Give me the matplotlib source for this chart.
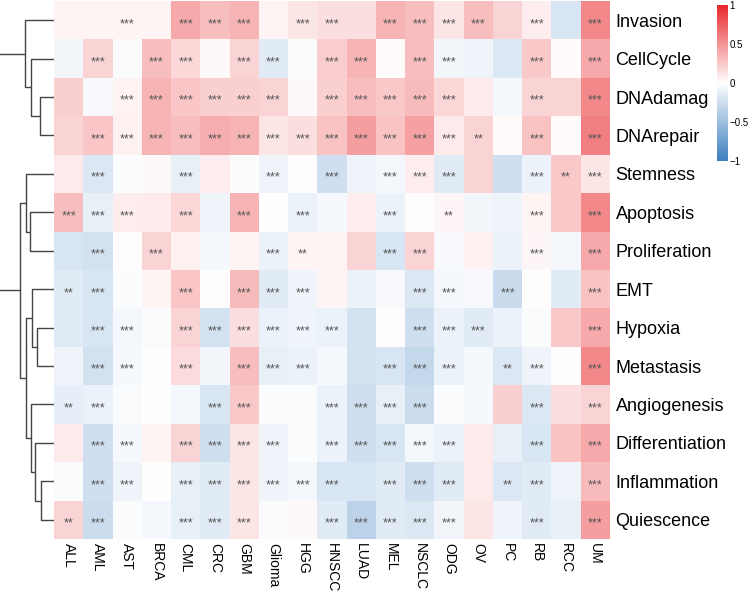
import numpy as np
import matplotlib
matplotlib.use("Agg")
import matplotlib.pyplot as plt
from matplotlib.colors import LinearSegmentedColormap

plt.rcParams["font.family"] = ["Liberation Sans", "DejaVu Sans"]

cancers = ["ALL", "AML", "AST", "BRCA", "CML", "CRC", "GBM", "Glioma", "HGG", "HNSCC",
           "LUAD", "MEL", "NSCLC", "ODG", "OV", "PC", "RB", "RCC", "UM"]
states = ["Invasion", "CellCycle", "DNAdamag", "DNArepair", "Stemness", "Apoptosis",
          "Proliferation", "EMT", "Hypoxia", "Metastasis", "Angiogenesis",
          "Differentiation", "Inflammation", "Quiescence"]

invasion =        [0.05, 0.05, 0.05, 0.05, 0.40, 0.30, 0.35, 0.05, 0.12, 0.15, 0.15, 0.35, 0.30, 0.12, 0.30, 0.20, 0.08, -0.20, 0.55]
cellcycle =       [-0.07, 0.20, -0.03, 0.30, 0.18, 0.03, 0.20, -0.15, -0.03, 0.23, 0.35, 0.02, 0.30, -0.07, -0.08, -0.18, 0.25, 0.02, 0.40]
dnadamag =        [0.22, -0.04, 0.06, 0.35, 0.27, 0.22, 0.22, 0.20, 0.03, 0.22, 0.30, 0.25, 0.32, 0.18, 0.10, -0.06, 0.20, 0.20, 0.55]
dnarepair =       [0.20, 0.27, 0.07, 0.35, 0.30, 0.38, 0.35, 0.12, 0.15, 0.28, 0.45, 0.28, 0.43, 0.10, 0.20, 0.02, 0.28, 0.02, 0.60]
stemness =        [0.10, -0.18, -0.02, 0.03, -0.12, 0.08, -0.02, -0.08, 0.01, -0.25, -0.08, -0.06, 0.08, -0.15, 0.20, -0.25, -0.10, 0.25, 0.12]
apoptosis =       [0.30, -0.12, 0.08, 0.10, 0.18, -0.08, 0.35, 0.00, -0.10, -0.05, 0.08, -0.10, 0.01, 0.04, -0.07, -0.08, 0.05, 0.25, 0.55]
proliferation =   [-0.20, -0.22, 0.01, 0.20, 0.07, -0.05, 0.05, -0.10, 0.05, 0.05, 0.20, -0.20, 0.20, -0.04, 0.07, -0.10, 0.04, -0.06, 0.40]
emt =             [-0.15, -0.20, -0.02, 0.05, 0.27, 0.01, 0.32, -0.15, -0.08, 0.05, -0.10, -0.04, -0.18, -0.06, -0.04, -0.28, 0.01, -0.15, 0.28]
hypoxia =         [-0.15, -0.20, -0.06, -0.03, 0.20, -0.22, 0.15, -0.10, -0.08, -0.10, -0.22, 0.01, -0.25, -0.10, -0.15, -0.10, -0.03, 0.25, 0.40]
metastasis =      [-0.08, -0.22, -0.05, 0.01, 0.17, -0.07, 0.30, -0.12, -0.10, -0.05, -0.22, -0.20, -0.30, -0.10, -0.05, -0.18, -0.08, 0.01, 0.55]
angiogenesis =    [-0.13, -0.10, -0.03, 0.00, -0.06, -0.20, 0.25, -0.02, -0.02, -0.10, -0.25, -0.12, -0.27, -0.02, -0.05, 0.22, -0.18, 0.15, 0.20]
differentiation = [0.10, -0.25, -0.05, 0.05, 0.20, -0.25, 0.12, -0.08, -0.02, -0.10, -0.25, -0.20, -0.06, -0.10, 0.10, -0.12, -0.20, 0.28, 0.40]
inflammation =    [-0.02, -0.25, -0.08, 0.00, -0.12, -0.15, 0.12, -0.08, -0.06, -0.20, -0.20, -0.15, -0.25, -0.15, 0.10, -0.18, -0.15, -0.08, 0.32]
quiescence =      [0.20, -0.27, -0.03, -0.05, -0.12, -0.15, 0.12, -0.03, 0.03, -0.15, -0.35, -0.15, -0.18, -0.07, 0.12, -0.08, -0.15, -0.12, 0.45]

sig_invasion =        ["", "", "***", "", "***", "***", "***", "", "***", "***", "", "***", "***", "***", "***", "", "***", "", "***"]
sig_cellcycle =       ["", "***", "", "***", "***", "", "***", "***", "", "***", "***", "", "***", "***", "", "", "***", "", "***"]
sig_dnadamag =        ["", "", "***", "***", "***", "***", "***", "***", "", "***", "***", "***", "***", "***", "", "", "***", "", "***"]
sig_dnarepair =       ["", "***", "***", "***", "***", "***", "***", "***", "***", "***", "***", "***", "***", "***", "**", "", "***", "", "***"]
sig_stemness =        ["", "***", "", "", "***", "", "", "***", "", "***", "", "***", "***", "***", "", "", "***", "**", "***"]
sig_apoptosis =       ["***", "***", "***", "", "***", "", "***", "", "***", "", "", "***", "", "**", "", "", "***", "", "***"]
sig_proliferation =   ["", "***", "", "***", "", "", "", "***", "**", "", "", "***", "***", "", "", "", "***", "", "***"]
sig_emt =             ["**", "***", "", "", "***", "", "***", "***", "***", "", "", "", "***", "***", "", "***", "", "", "***"]
sig_hypoxia =         ["", "***", "***", "", "***", "***", "***", "***", "***", "***", "", "", "***", "***", "***", "", "", "", "***"]
sig_metastasis =      ["", "***", "***", "", "***", "", "***", "***", "***", "", "", "***", "***", "***", "", "**", "***", "", "***"]
sig_angiogenesis =    ["**", "***", "", "", "", "***", "***", "", "", "***", "***", "***", "***", "", "", "", "***", "", "***"]
sig_differentiation = ["", "***", "***", "", "***", "***", "***", "***", "", "***", "***", "***", "***", "***", "", "", "***", "", "***"]
sig_inflammation =    ["", "***", "***", "", "***", "***", "***", "***", "***", "***", "", "***", "***", "***", "", "**", "***", "", "***"]
sig_quiescence =      ["**", "***", "", "", "***", "***", "***", "", "", "***", "***", "***", "***", "***", "", "", "***", "", "***"]

values = np.array([invasion, cellcycle, dnadamag, dnarepair, stemness, apoptosis,
                   proliferation, emt, hypoxia, metastasis, angiogenesis,
                   differentiation, inflammation, quiescence])
sigs = [sig_invasion, sig_cellcycle, sig_dnadamag, sig_dnarepair, sig_stemness,
        sig_apoptosis, sig_proliferation, sig_emt, sig_hypoxia, sig_metastasis,
        sig_angiogenesis, sig_differentiation, sig_inflammation, sig_quiescence]

# Row dendrogram: (left, right, merge height)
top_group = ("Invasion", ("CellCycle", ("DNAdamag", "DNArepair", 14), 23), 29)
stem_group = ("Stemness", ("Apoptosis", "Proliferation", 24), 28)
emt_group = ("EMT", ("Hypoxia", "Metastasis", 17), 22)
angio_group = ("Angiogenesis", ("Differentiation", ("Inflammation", "Quiescence", 13), 19), 23)
lower_group = (emt_group, angio_group, 28)
bottom_group = (stem_group, lower_group, 34)
tree = (top_group, bottom_group, 70)

W, H = 7.49, 5.95
fig = plt.figure(figsize=(W, H), dpi=100)

left_px, right_px, top_px, bot_px = 54, 610, 1, 539
ax = fig.add_axes([left_px / 749, 1 - bot_px / 595, (right_px - left_px) / 749, (bot_px - top_px) / 595])
cmap = LinearSegmentedColormap.from_list("rwb", ["#3C7FBF", "#FFFFFF", "#E8282C"])
nr, nc = values.shape
im = ax.pcolormesh(np.arange(nc + 1), np.arange(nr + 1), values, cmap=cmap, vmin=-1, vmax=1)
ax.set_xlim(0, nc)
ax.set_ylim(nr, 0)
for i in range(nr):
    for j in range(nc):
        if sigs[i][j]:
            ax.text(j + 0.5, i + 0.60, sigs[i][j], ha="center", va="center",
                    fontsize=9, color="#555555")
ax.set_xticks(np.arange(nc) + 0.5)
ax.set_xticklabels(cancers, rotation=270, fontsize=10, va="top", ha="center")
ax.set_yticks(np.arange(nr) + 0.5)
ax.set_yticklabels(states, fontsize=13)
ax.yaxis.tick_right()
ax.tick_params(axis="x", length=0, pad=3)
ax.tick_params(axis="y", length=0, pad=4)
for s in ax.spines.values():
    s.set_visible(False)

# dendrogram
dax = fig.add_axes([0, 1 - bot_px / 595, left_px / 749, (bot_px - top_px) / 595])
row_pos = {name: i + 0.5 for i, name in enumerate(states)}

def draw(node):
    if isinstance(node, str):
        return row_pos[node], 0.0
    a, b, h = node
    ya, ha = draw(a)
    yb, hb = draw(b)
    dax.plot([ha, h, h, hb], [ya, ya, yb, yb], color="#444444", lw=1.0, solid_capstyle="butt")
    return (ya + yb) / 2, h

draw(tree)
dax.set_xlim(54, 0)
dax.set_ylim(nr, 0)
dax.axis("off")

# colorbar
cax = fig.add_axes([717 / 749, 1 - 161 / 595, 11 / 749, 156 / 595])
cb = fig.colorbar(im, cax=cax, ticks=[-1, -0.5, 0, 0.5, 1])
cb.ax.set_yticklabels(["\u22121", "\u22120.5", "0", "0.5", "1"])
cb.ax.tick_params(labelsize=7, length=0, pad=1)
cb.outline.set_visible(False)

fig.savefig("out.png", dpi=100)
